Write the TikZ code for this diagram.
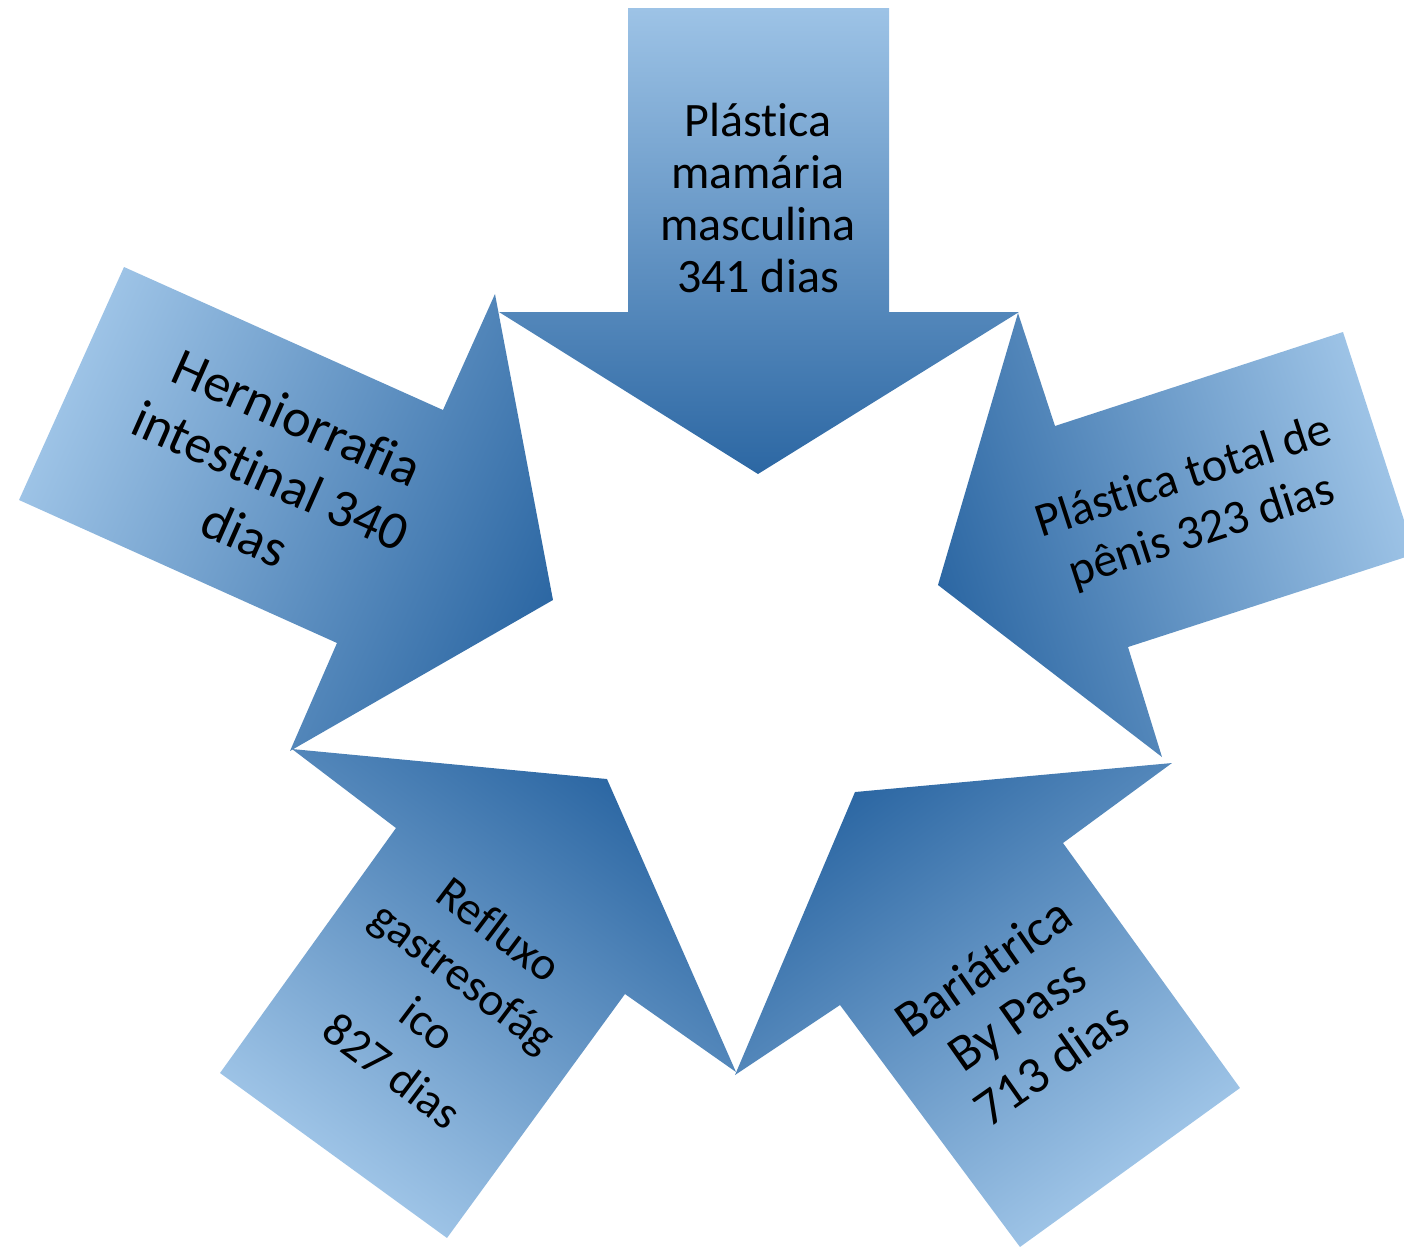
\documentclass[tikz,border=0pt]{standalone}
\usepackage{fontspec}
\setmainfont{Carlito}[Ligatures={NoCommon,NoContextual}]
\definecolor{arlight}{HTML}{9DC3E6}
\definecolor{armid}{HTML}{5B9BD5}
\definecolor{ardark}{HTML}{2C67A3}
\tikzset{
  arrowshade/.style={top color=arlight, middle color=armid, bottom color=ardark, draw=none},
  lbl/.style={align=center, text=black, inner sep=0pt},
}
\begin{document}
\begin{tikzpicture}[x=0.5pt, y=-0.5pt]
\useasboundingbox (0,0) rectangle (1404,1248);
\clip (0,0) rectangle (1404,1248);
% top arrow
\shade[arrowshade] (628,8) -- (889,8) -- (889,312) -- (1019,312) -- (758,474) -- (499,312) -- (628,312) -- cycle;
% right arrow
\coordinate (cright) at (1180,530);
\begin{scope}[transform canvas={rotate around={-72:(cright)}}]
\shade[arrowshade, rotate around={72:(cright)}] (1343,332) -- (1415,554) -- (1128,647) -- (1162,757) -- (938,585) -- (1018,313) -- (1055,426) -- cycle;
\end{scope}
% bottom-right arrow
\coordinate (cbr) at (990,990);
\begin{scope}[transform canvas={rotate around={-144.2:(cbr)}}]
\shade[arrowshade, rotate around={144.2:(cbr)}] (1240,1088) -- (1020,1247) -- (840,1005) -- (735,1075) -- (855,792) -- (1172,763) -- (1063,843) -- cycle;
\end{scope}
% bottom-left arrow
\coordinate (cbl) at (460,990);
\begin{scope}[transform canvas={rotate around={144.3:(cbl)}}]
\shade[arrowshade, rotate around={-144.3:(cbl)}] (220,1073) -- (447,1238) -- (625,994) -- (736,1072) -- (607,779) -- (292,749) -- (396,828) -- cycle;
\end{scope}
% left arrow
\coordinate (cleft) at (300,470);
\begin{scope}[transform canvas={rotate around={65.9:(cleft)}}]
\shade[arrowshade, rotate around={-65.9:(cleft)}] (124,267) -- (443,410) -- (495,294) -- (553,600) -- (290,751) -- (337,643) -- (19,500) -- cycle;
\end{scope}
% labels
\node[lbl, font=\fontsize{24}{26}\selectfont] (ltop) at (758,198) {Plástica\\mamária\\masculina\\341 dias};
\node[lbl, font=\fontsize{24}{28.5}\selectfont, rotate=18] (lright) at (1193,505) {Plástica total de\\pênis 323 dias};
\node[lbl, font=\fontsize{27}{32}\selectfont, rotate=-24] (lleft) at (271,476) {Herniorrafia\\intestinal 340\\dias};
\node[lbl, font=\fontsize{23.5}{29.5}\selectfont, rotate=-37] (lbl) at (446,1000) {Refluxo\\gastresofág\\ico\\827 dias};
\node[lbl, font=\fontsize{26}{29.5}\selectfont, rotate=35] (lbr) at (1017,1015) {Bariátrica\\By Pass\\713 dias};
\end{tikzpicture}
\end{document}
